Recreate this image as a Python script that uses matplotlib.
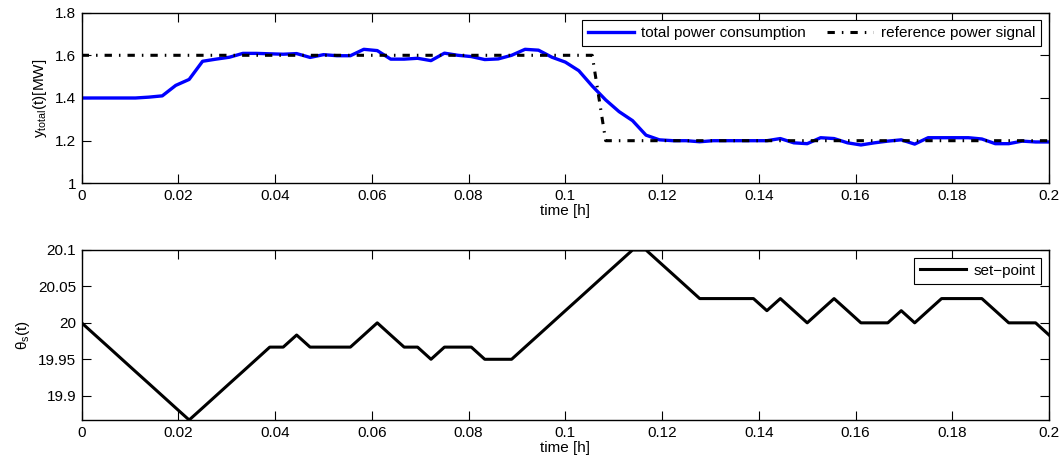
import numpy as np
import matplotlib
matplotlib.use('Agg')
import matplotlib.pyplot as plt
from matplotlib.ticker import FuncFormatter

plt.rcParams['font.family'] = ['Liberation Sans', 'DejaVu Sans']
plt.rcParams['mathtext.fontset'] = 'custom'
plt.rcParams['mathtext.rm'] = 'Liberation Sans'
plt.rcParams['font.size'] = 11

# sample grid: 10 s steps over 0.2 h
t = np.linspace(0, 0.2, 73)

# total power consumption [MW]
y_total = [1.400, 1.400, 1.400, 1.400, 1.400, 1.404, 1.410, 1.459, 1.487, 1.572,
           1.582, 1.591, 1.609, 1.609, 1.607, 1.605, 1.608, 1.590, 1.603, 1.598,
           1.598, 1.628, 1.622, 1.582, 1.582, 1.586, 1.575, 1.610, 1.600, 1.594,
           1.580, 1.583, 1.600, 1.628, 1.624, 1.591, 1.568, 1.528, 1.456, 1.391,
           1.336, 1.294, 1.226, 1.204, 1.200, 1.200, 1.195, 1.200, 1.200, 1.200,
           1.200, 1.200, 1.210, 1.190, 1.186, 1.214, 1.210, 1.190, 1.180, 1.190,
           1.198, 1.204, 1.184, 1.214, 1.214, 1.214, 1.214, 1.208, 1.186, 1.186,
           1.198, 1.194, 1.194]

# reference power signal [MW]
y_ref = [1.6] * 39 + [1.2] * 34

# set-point temperature
theta_s = [20.0, 19.9833, 19.9667, 19.95, 19.9333, 19.9167, 19.9, 19.8833, 19.8667,
           19.8833, 19.9, 19.9167, 19.9333, 19.95, 19.9667, 19.9667, 19.9833, 19.9667,
           19.9667, 19.9667, 19.9667, 19.9833, 20.0, 19.9833, 19.9667, 19.9667, 19.95,
           19.9667, 19.9667, 19.9667, 19.95, 19.95, 19.95, 19.9667, 19.9833, 20.0,
           20.0167, 20.0333, 20.05, 20.0667, 20.0833, 20.1, 20.1, 20.0833, 20.0667,
           20.05, 20.0333, 20.0333, 20.0333, 20.0333, 20.0333, 20.0167, 20.0333,
           20.0167, 20.0, 20.0167, 20.0333, 20.0167, 20.0, 20.0, 20.0, 20.0167, 20.0,
           20.0167, 20.0333, 20.0333, 20.0333, 20.0333, 20.0167, 20.0, 20.0, 20.0,
           19.9833]

fig = plt.figure(figsize=(10.62, 4.63), dpi=100)
ax1 = fig.add_axes([0.0769, 0.6039, 0.9109, 0.3689])
ax2 = fig.add_axes([0.0769, 0.0929, 0.9109, 0.3672])

fmt = FuncFormatter(lambda v, p: '%g' % round(v, 4))

ax1.plot(t, y_total, color='#0000ff', lw=2.4, label='total power consumption')
ax1.plot(t, y_ref, color='black', lw=2.2, linestyle=(0, (2.4, 2.3, 0.5, 2.3)),
         label='reference power signal')
ax1.set_xlim(0, 0.2)
ax1.set_ylim(1, 1.8)
ax1.set_yticks([1, 1.2, 1.4, 1.6, 1.8])
ax1.set_xlabel('time [h]', labelpad=1)
ax1.set_ylabel(r'y$_{\mathrm{total}}$(t)[MW]')
leg1 = ax1.legend(loc='upper right', ncol=2, fancybox=False, edgecolor='black',
                  framealpha=1, borderaxespad=0.5, handlelength=3.0,
                  columnspacing=1.4, handletextpad=0.5, borderpad=0.4)
leg1.get_frame().set_linewidth(0.8)

ax2.plot(t, theta_s, color='black', lw=2.2, label='set\u2212point')
ax2.set_xlim(0, 0.2)
ax2.set_ylim(19.8667, 20.1)
ax2.set_yticks([19.9, 19.95, 20, 20.05, 20.1])
ax2.set_xlabel('time [h]', labelpad=1)
ax2.set_ylabel('\u03b8$_{\\mathrm{s}}$(t)')
leg2 = ax2.legend(loc='upper right', fancybox=False, edgecolor='black',
                  framealpha=1, borderaxespad=0.5, handlelength=3.0,
                  handletextpad=0.5, borderpad=0.4)
leg2.get_frame().set_linewidth(0.8)

for ax in (ax1, ax2):
    ax.set_xticks(np.arange(0, 0.201, 0.02))
    ax.xaxis.set_major_formatter(fmt)
    ax.yaxis.set_major_formatter(fmt)
    ax.tick_params(direction='in', top=True, right=True, length=6.5, width=0.8,
                   labelsize=11, pad=4)
    for s in ax.spines.values():
        s.set_linewidth(1.0)

fig.savefig('out.png', dpi=100)
